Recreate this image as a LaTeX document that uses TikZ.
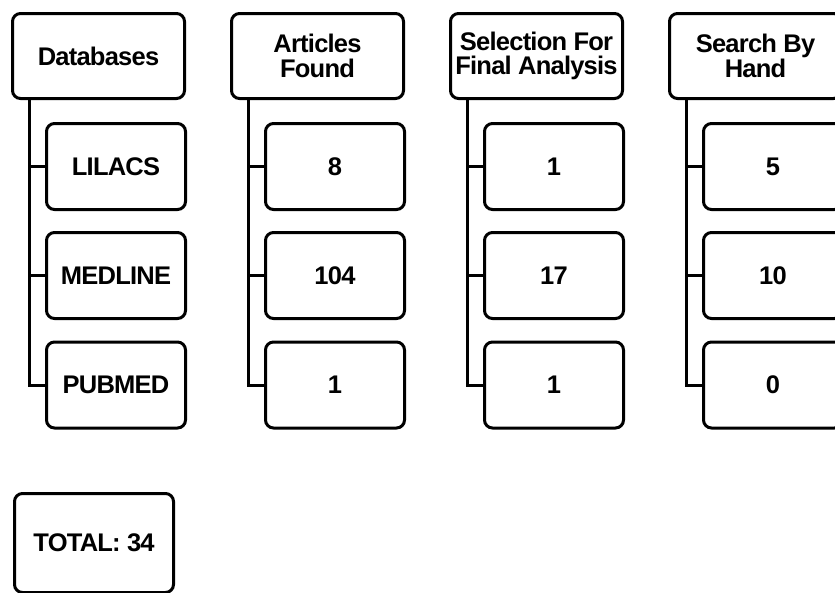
\documentclass[tikz,border=0pt]{standalone}
\usepackage{fontspec}
\setmainfont{Liberation Sans}[LetterSpace=-3]
\begin{document}
\begin{tikzpicture}[x=1pt,y=-1pt,
  box/.style={draw=black,line width=3pt,rounded corners=8pt,fill=white,
    font=\fontsize{25.5}{24.5}\selectfont\bfseries,align=center,inner sep=0pt},
  headbox/.style={box,minimum width=172pt,minimum height=85pt},
  itembox/.style={box,minimum width=139pt,minimum height=86pt},
  link/.style={draw=black,line width=3pt}]
\useasboundingbox (0,0) rectangle (835,592);
\fill[white] (0,0) rectangle (835,592);
\foreach \i/\h/\a/\b/\c in {0/Databases/LILACS/MEDLINE/PUBMED,
  1/{Articles\\Found}/8/104/1,
  2/{Selection For\\Final Analysis}/1/17/1,
  3/{Search By\\Hand}/5/10/0}{
  \node[headbox] (h\i) at (98.5+219*\i,56) {\h};
  \node[itembox] (c\i a) at (116+219*\i,166.5) {\a};
  \node[itembox] (c\i b) at (116+219*\i,275.5) {\b};
  \node[itembox] (c\i c) at (116+219*\i,385) {\c};
  \coordinate (v\i) at ([xshift=18pt]h\i.south west);
  \draw[link] (v\i) |- (c\i c.west);
  \draw[link] (c\i a.west) -- (c\i a.west -| v\i);
  \draw[link] (c\i b.west) -- (c\i b.west -| v\i);
}
\node[box,minimum width=159pt,minimum height=99pt] (total) at (94,543) {TOTAL: 34};
\end{tikzpicture}
\end{document}
